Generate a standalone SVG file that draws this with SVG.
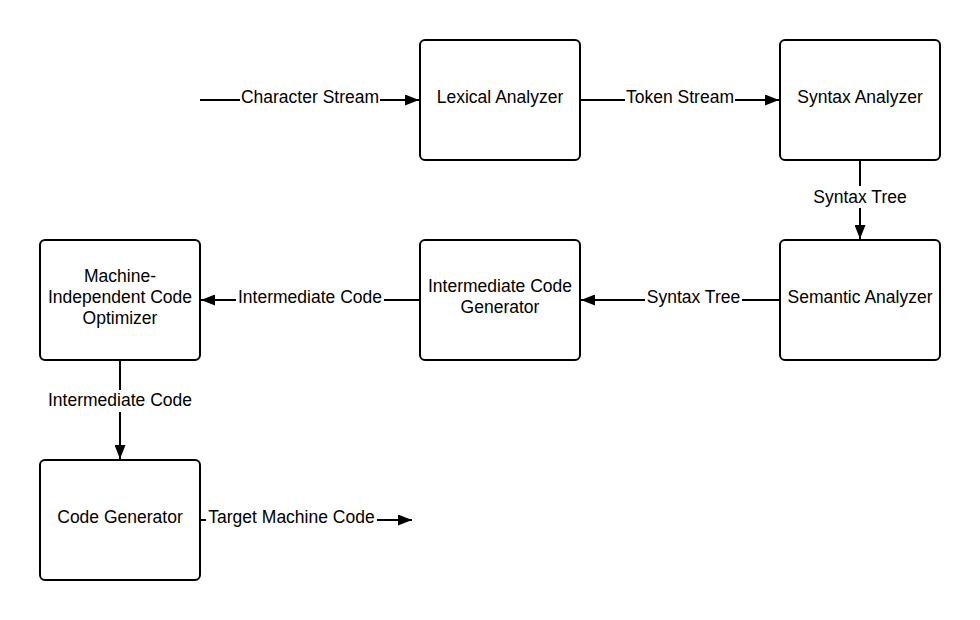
<svg xmlns="http://www.w3.org/2000/svg" width="980" height="620" viewBox="0 0 980 620">
<style>
.box{fill:#fff;stroke:#000;stroke-width:2}
.t{font-family:"Liberation Sans",Arial,sans-serif;font-size:17.5px;fill:#000;text-anchor:middle;dominant-baseline:central}
.ln{fill:none;stroke:#000;stroke-width:2}
.bg{fill:#fff}
</style>
<defs>
<marker id="ah" viewBox="0 0 14 11" refX="14" refY="5.5" markerWidth="14" markerHeight="11" markerUnits="userSpaceOnUse" orient="auto">
<path d="M0,0 L14,5.5 L0,11 Z" fill="#000"/>
</marker>
</defs>
<rect width="980" height="620" fill="#fff"/>
<g id="connectors">
<g id="e1"><line class="ln" x1="200" y1="100" x2="419" y2="100" marker-end="url(#ah)"/><rect class="bg" x="240" y="88" width="140" height="22"/><text class="t" x="310" y="97">Character Stream</text></g>
<g id="e2"><line class="ln" x1="580" y1="100" x2="779" y2="100" marker-end="url(#ah)"/><rect class="bg" x="625" y="88" width="110" height="22"/><text class="t" x="680" y="97">Token Stream</text></g>
<g id="e3"><line class="ln" x1="860" y1="160" x2="860" y2="239" marker-end="url(#ah)"/><rect class="bg" x="810" y="186" width="100" height="22"/><text class="t" x="860" y="197">Syntax Tree</text></g>
<g id="e4"><line class="ln" x1="780" y1="300" x2="581" y2="300" marker-end="url(#ah)"/><rect class="bg" x="645" y="288" width="97" height="22"/><text class="t" x="693.5" y="297">Syntax Tree</text></g>
<g id="e5"><line class="ln" x1="420" y1="300" x2="201" y2="300" marker-end="url(#ah)"/><rect class="bg" x="236" y="288" width="148" height="22"/><text class="t" x="310" y="297">Intermediate Code</text></g>
<g id="e6"><line class="ln" x1="120" y1="360" x2="120" y2="459" marker-end="url(#ah)"/><rect class="bg" x="45" y="390" width="150" height="22"/><text class="t" x="120" y="400">Intermediate Code</text></g>
<g id="e7"><line class="ln" x1="200" y1="520" x2="412" y2="520" marker-end="url(#ah)"/><rect class="bg" x="206" y="508" width="171" height="22"/><text class="t" x="291.5" y="517">Target Machine Code</text></g>
</g>
<g id="lexical"><rect class="box" x="420" y="40" width="160" height="120" rx="5"/><text class="t" x="500" y="97">Lexical Analyzer</text></g>
<g id="syntax"><rect class="box" x="780" y="40" width="160" height="120" rx="5"/><text class="t" x="860" y="97">Syntax Analyzer</text></g>
<g id="semantic"><rect class="box" x="780" y="240" width="160" height="120" rx="5"/><text class="t" x="860" y="297">Semantic Analyzer</text></g>
<g id="icg"><rect class="box" x="420" y="240" width="160" height="120" rx="5"/><text class="t" x="500" y="286">Intermediate Code</text><text class="t" x="500" y="307">Generator</text></g>
<g id="mico"><rect class="box" x="40" y="240" width="160" height="120" rx="5"/><text class="t" x="120" y="276">Machine-</text><text class="t" x="120" y="297">Independent Code</text><text class="t" x="120" y="318">Optimizer</text></g>
<g id="codegen"><rect class="box" x="40" y="460" width="160" height="120" rx="5"/><text class="t" x="120" y="517">Code Generator</text></g>
</svg>
